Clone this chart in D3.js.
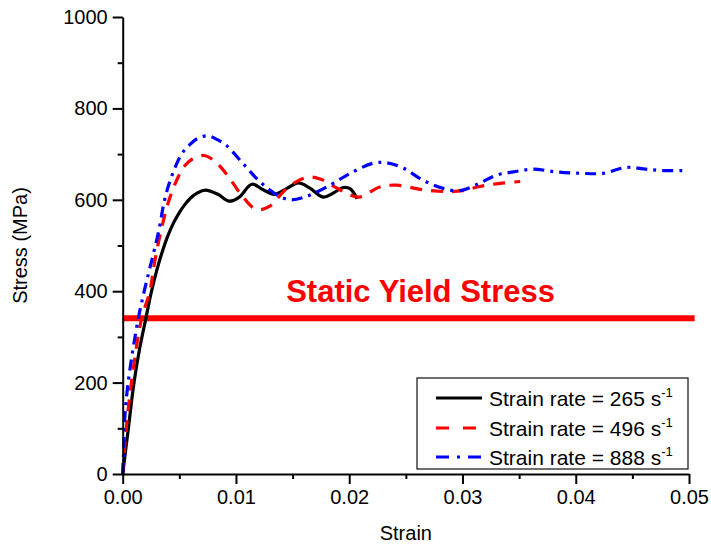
<!DOCTYPE html>
<html>
<head>
<meta charset="utf-8">
<script src="https://cdn.jsdelivr.net/npm/d3@7"></script>
<style>
  body { margin: 0; background: #fff; }
  svg { display: block; font-family: Arial, "Liberation Sans", sans-serif; }
</style>
</head>
<body>
<div id="chart"></div>
<script>
// strain, stress (MPa)
const black265 = [
  [0, 0], [0.0005, 100], [0.001, 200], [0.0015, 275], [0.002, 335], [0.0025, 395],
  [0.003, 445], [0.0035, 487], [0.004, 522], [0.0045, 550], [0.005, 572], [0.0055, 590],
  [0.006, 604], [0.0066, 615], [0.0073, 621], [0.0084, 612], [0.0094, 597], [0.0103, 606],
  [0.0114, 634], [0.0124, 622], [0.0134, 612], [0.0145, 625], [0.0155, 637], [0.0165, 626],
  [0.0177, 606], [0.0186, 615], [0.0195, 627], [0.0201, 624], [0.0207, 602]
];
const red496 = [
  [0, 0], [0.00032, 100], [0.00076, 198], [0.00164, 337], [0.0024, 400], [0.0028, 461],
  [0.0034, 534], [0.0041, 600], [0.0049, 650], [0.0055, 675], [0.0062, 690], [0.0072, 697],
  [0.0081, 685], [0.0093, 652], [0.0105, 610], [0.0118, 579], [0.013, 586], [0.0142, 618],
  [0.0155, 642], [0.0165, 650], [0.0175, 645], [0.0186, 630], [0.0198, 614], [0.0209, 606],
  [0.0227, 628], [0.0242, 632], [0.0265, 622], [0.0286, 618], [0.03, 620], [0.0315, 629],
  [0.0333, 636], [0.0351, 640]
];
const blue888 = [
  [0, 0], [0.0001, 60], [0.00015, 110], [0.00047, 198], [0.00135, 337], [0.0019, 400],
  [0.0025, 461], [0.0032, 534], [0.0037, 600], [0.0043, 650], [0.0052, 700], [0.0059, 720],
  [0.0066, 734], [0.0075, 740], [0.0084, 731], [0.0092, 718], [0.0106, 680], [0.0121, 640],
  [0.0136, 611], [0.0148, 600], [0.0162, 607], [0.0183, 632], [0.0201, 658], [0.0221, 680],
  [0.0233, 681], [0.0248, 669], [0.0265, 643], [0.0283, 625], [0.0298, 620], [0.0315, 636],
  [0.033, 654], [0.0345, 661], [0.0362, 667], [0.0383, 661], [0.0404, 658], [0.0424, 658],
  [0.0445, 671], [0.0462, 667], [0.0477, 664], [0.0495, 664]
];
const staticYield = [[0, 341], [0.0505, 341]];
const staticLabel = { strain: 0.0263, stress: 376, text: "Static Yield Stress" };

const xTicks = [0, 0.01, 0.02, 0.03, 0.04, 0.05];
const xMinor = [0.005, 0.015, 0.025, 0.035, 0.045];
const yTicks = [0, 200, 400, 600, 800, 1000];
const yMinor = [100, 300, 500, 700, 900];

const seriesNames = ["Strain rate = 265 s", "Strain rate = 496 s", "Strain rate = 888 s"];
const seriesColors = ["#000000", "#ff0000", "#0000ff"];
const seriesDash = [null, "12,9", "11,6,3,6"];

const width = 711, height = 546;
const m = { left: 122.7, top: 17, right: 711 - 689, bottom: 546 - 474 };

const svg = d3.select("#chart").append("svg").attr("width", width).attr("height", height);

const x = d3.scaleLinear().domain([0, 0.05]).range([m.left, width - m.right]);
const y = d3.scaleLinear().domain([0, 1000]).range([height - m.bottom, m.top]);

const line = d3.line()
  .x(d => x(d[0]))
  .y(d => y(d[1]))
  .curve(d3.curveCatmullRom.alpha(0.5));

// static yield line + label
svg.append("path")
  .datum(staticYield)
  .attr("fill", "none")
  .attr("stroke", "#ff0000")
  .attr("stroke-width", 6)
  .attr("d", d3.line().x(d => x(d[0])).y(d => y(d[1])));

svg.append("text")
  .attr("x", x(staticLabel.strain))
  .attr("y", y(staticLabel.stress))
  .attr("text-anchor", "middle")
  .attr("font-size", 31)
  .attr("font-weight", "bold")
  .attr("fill", "#ff0000")
  .text(staticLabel.text);

// curves
const allSeries = [black265, red496, blue888];
allSeries.forEach((s, i) => {
  svg.append("path")
    .datum(s)
    .attr("fill", "none")
    .attr("stroke", seriesColors[i])
    .attr("stroke-width", 3.2)
    .attr("stroke-dasharray", seriesDash[i])
    .attr("d", line);
});

// axes
svg.append("g")
  .attr("transform", `translate(0,${height - m.bottom})`)
  .call(d3.axisBottom(x).tickValues(xTicks).tickSize(10).tickSizeOuter(0).tickPadding(6)
    .tickFormat(d3.format(".2f")));
svg.append("g")
  .attr("transform", `translate(0,${height - m.bottom})`)
  .call(d3.axisBottom(x).tickValues(xMinor).tickSize(5).tickSizeOuter(0).tickFormat(""))
  .select(".domain").remove();

svg.append("g")
  .attr("transform", `translate(${m.left},0)`)
  .call(d3.axisLeft(y).tickValues(yTicks).tickSize(10).tickSizeOuter(0).tickPadding(5)
    .tickFormat(d3.format("d")));
svg.append("g")
  .attr("transform", `translate(${m.left},0)`)
  .call(d3.axisLeft(y).tickValues(yMinor).tickSize(5).tickSizeOuter(0).tickFormat(""))
  .select(".domain").remove();

svg.selectAll(".tick line, .domain").attr("stroke", "#000").attr("stroke-width", 2);
svg.selectAll(".tick text")
  .attr("font-size", 20)
  .attr("font-family", "Arial, 'Liberation Sans', sans-serif")
  .attr("fill", "#000");

svg.append("text")
  .attr("x", (x(0) + x(0.05)) / 2)
  .attr("y", 540)
  .attr("text-anchor", "middle")
  .attr("font-size", 20)
  .text("Strain");

svg.append("text")
  .attr("transform", `translate(27,${(y(0) + y(1000)) / 2}) rotate(-90)`)
  .attr("text-anchor", "middle")
  .attr("font-size", 20)
  .text("Stress (MPa)");

// legend
const legend = svg.append("g");
legend.append("rect")
  .attr("x", 417).attr("y", 378).attr("width", 271).attr("height", 91)
  .attr("fill", "#fff").attr("stroke", "#222").attr("stroke-width", 1.3);

const rowY = [398, 428, 457];
seriesNames.forEach((name, i) => {
  legend.append("line")
    .attr("x1", 436).attr("x2", 482)
    .attr("y1", rowY[i]).attr("y2", rowY[i])
    .attr("stroke", seriesColors[i])
    .attr("stroke-width", 3.2)
    .attr("stroke-dasharray", seriesDash[i] === null ? null : (i === 1 ? "13,14" : "13,8,3,8"));
  const t = legend.append("text")
    .attr("x", 489).attr("y", rowY[i] + 7.5)
    .attr("font-size", 21);
  t.append("tspan").text(name);
  t.append("tspan").attr("dy", -9).attr("font-size", 13).text("-1");
});
</script>
</body>
</html>
